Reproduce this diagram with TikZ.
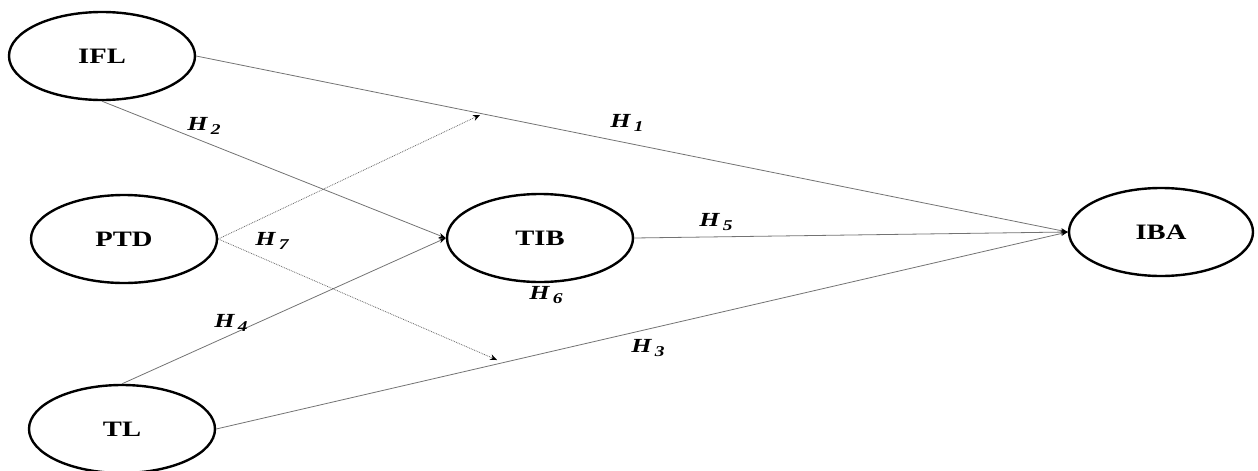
\documentclass[tikz,border=0pt]{standalone}
\usepackage{fontspec}
\setmainfont[FakeStretch=1.3]{Liberation Serif}
\usetikzlibrary{shapes.geometric,arrows.meta}
\begin{document}
\begin{tikzpicture}[x=1pt,y=-1pt,
  latent/.style={ellipse,draw=black,line width=2.4pt,minimum width=186pt,minimum height=88pt,inner sep=0pt,font=\fontsize{22}{24}\selectfont\bfseries},
  path/.style={draw=black!55,line width=0.8pt,-{Stealth[length=7pt,width=5pt,black]}},
  moder/.style={draw=black!60,line width=0.8pt,densely dotted,-{Stealth[length=7pt,width=6pt,black]}},
  hyp/.style={font=\fontsize{20}{22}\selectfont\bfseries\itshape,inner sep=0pt}]
\useasboundingbox (0,0) rectangle (1258,471);
\node[latent] (IFL) at (102,56) {IFL};
\node[latent] (PTD) at (124,239) {PTD};
\node[latent] (TIB) at (540,238) {TIB};
\node[latent,minimum width=184pt] (IBA) at (1161,232) {IBA};
\node[latent] (TL) at (122,429) {TL};
\coordinate (m1) at (480,115);
\coordinate (m3) at (497,360);
\draw[path] (IFL.east) -- (IBA.west);
\draw[path] (IFL.south) -- (TIB.west);
\draw[path] (TL.north) -- (TIB.west);
\draw[path] (TIB.east) -- (IBA.west);
\draw[path] (TL.east) -- (IBA.west);
\draw[moder] (PTD.east) -- (m1);
\draw[moder] (PTD.east) -- (m3);
\node[hyp] (h1) at (627,123) {H\,\raisebox{-0.4ex}{\fontsize{15}{16}\selectfont 1}};
\node[hyp] (h2) at (204,126) {H\,\raisebox{-0.4ex}{\fontsize{15}{16}\selectfont 2}};
\node[hyp] (h3) at (648,348) {H\,\raisebox{-0.4ex}{\fontsize{15}{16}\selectfont 3}};
\node[hyp] (h4) at (231,323) {H\,\raisebox{-0.4ex}{\fontsize{15}{16}\selectfont 4}};
\node[hyp] (h5) at (716,222) {H\,\raisebox{-0.4ex}{\fontsize{15}{16}\selectfont 5}};
\node[hyp] (h6) at (546,295) {H\,\raisebox{-0.4ex}{\fontsize{15}{16}\selectfont 6}};
\node[hyp] (h7) at (272,241) {H\,\raisebox{-0.4ex}{\fontsize{15}{16}\selectfont 7}};
\end{tikzpicture}
\end{document}
